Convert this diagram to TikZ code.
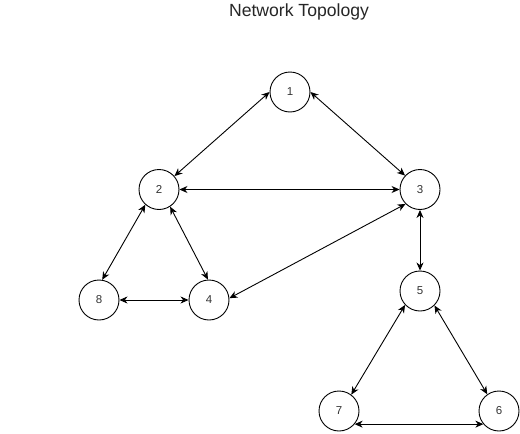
\documentclass[tikz,border=0pt]{standalone}
\usepackage{fontspec}
\setmainfont{Liberation Sans}
\usetikzlibrary{arrows.meta}
\begin{document}
\begin{tikzpicture}[x=1pt,y=-1pt,
  nd/.style={circle,draw,line width=0.9pt,minimum size=40pt,inner sep=0pt,font=\fontsize{11.5}{13}\selectfont,text=black!80},
  lnk/.style={line width=0.9pt,{Stealth[length=8pt,width=7pt,inset=2.5pt]}-{Stealth[length=8pt,width=7pt,inset=2.5pt]}},
  ttl/.style={font=\fontsize{17.6}{20}\selectfont,text=black!85,inner sep=0pt}]
\useasboundingbox (0,0) rectangle (520,434);
\node[ttl] (title) at (299,12) {Network Topology};
\node[nd] (n1) at (290,92) {1};
\node[nd] (n2) at (159,189.5) {2};
\node[nd] (n3) at (420,189.5) {3};
\node[nd] (n4) at (209,300) {4};
\node[nd] (n5) at (420,291) {5};
\node[nd] (n6) at (499,411) {6};
\node[nd] (n7) at (339,411) {7};
\node[nd] (n8) at (99,300) {8};
\draw[lnk] (n2.41) -- (n1.180);
\draw[lnk] (n1.0) -- (n3.137);
\draw[lnk] (n2.0) -- (n3.180);
\draw[lnk] (n2.228) -- (n8.81);
\draw[lnk] (n2.-57) -- (n4.93);
\draw[lnk] (n4.5) -- (n3.225);
\draw[lnk] (n8.0) -- (n4.180);
\draw[lnk] (n3.270) -- (n5.90);
\draw[lnk] (n5.223) -- (n7.53);
\draw[lnk] (n5.-45) -- (n6.125);
\draw[lnk] (n7.-40) -- (n6.220);
\end{tikzpicture}
\end{document}
